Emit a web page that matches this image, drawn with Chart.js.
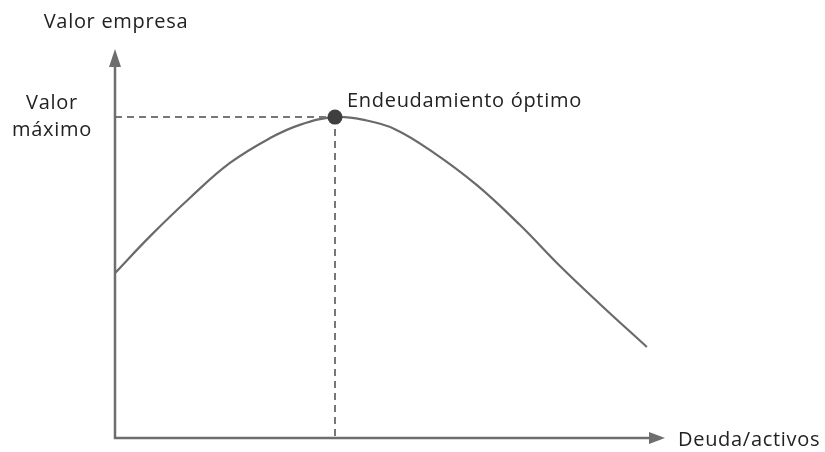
<!DOCTYPE html>
<html>
<head>
<meta charset="utf-8">
<script src="https://cdn.jsdelivr.net/npm/chart.js@4/dist/chart.umd.min.js"></script>
<style>
  html,body{margin:0;padding:0;background:#fff;}
  #wrap{width:825px;height:452px;position:relative;}
</style>
</head>
<body>
<div id="wrap"><canvas id="c" width="825" height="452"></canvas></div>
<script>
// Curve: firm value vs debt/assets (arbitrary units)
const debtRatio  = [0, 6.4, 13.6, 20.9, 28.2, 33.6, 40, 45.5, 50.9, 57.8, 65.8, 73.6, 80.9, 88.2, 96.7];
const firmValue  = [42.4, 51.9, 61.7, 70.7, 77.1, 80.5, 82.5, 81.7, 79.4, 73.5, 65.0, 54.8, 44.2, 34.4, 23.4];
const optimumX = [40];
const optimumY = [82.5];
const labels = {
  yTitle: "Valor empresa",
  xTitle: "Deuda/activos",
  maxValue: ["Valor", "máximo"],
  optimum: "Endeudamiento óptimo"
};

const FONT = '20px "Open Sans", Lato, sans-serif';
const TEXT = '#222';
const AXIS = '#6e6e6e';

const decor = {
  id: 'decor',
  afterDatasetsDraw(chart) {
    const {ctx, scales:{x, y}} = chart;
    const x0 = x.getPixelForValue(0), y0 = y.getPixelForValue(0);
    const xEnd = x.getPixelForValue(100), yEnd = y.getPixelForValue(100);
    ctx.save();
    ctx.strokeStyle = AXIS; ctx.fillStyle = AXIS; ctx.lineWidth = 2.5;
    // y axis
    ctx.beginPath(); ctx.moveTo(x0, y0 + 1); ctx.lineTo(x0, yEnd + 16); ctx.stroke();
    ctx.beginPath(); ctx.moveTo(x0, yEnd); ctx.lineTo(x0 - 6, yEnd + 18); ctx.lineTo(x0 + 6, yEnd + 18); ctx.closePath(); ctx.fill();
    // x axis
    ctx.beginPath(); ctx.moveTo(x0 - 1, y0); ctx.lineTo(xEnd - 14, y0); ctx.stroke();
    ctx.beginPath(); ctx.moveTo(xEnd, y0); ctx.lineTo(xEnd - 16, y0 - 6); ctx.lineTo(xEnd - 16, y0 + 6); ctx.closePath(); ctx.fill();
    // labels
    ctx.fillStyle = TEXT; ctx.font = FONT; ctx.textBaseline = 'middle';
    if ('letterSpacing' in ctx) ctx.letterSpacing = '0.7px';
    ctx.textAlign = 'center';
    ctx.fillText(labels.yTitle, x0 + 1, yEnd - 27);
    const py = y.getPixelForValue(optimumY[0]);
    ctx.fillText(labels.maxValue[0], 52, py - 14);
    ctx.fillText(labels.maxValue[1], 52, py + 13);
    ctx.textAlign = 'left';
    const px = x.getPixelForValue(optimumX[0]);
    ctx.fillText(labels.optimum, px + 12, py - 16);
    ctx.fillText(labels.xTitle, xEnd + 13, y0 + 2);
    ctx.restore();
  }
};

new Chart(document.getElementById('c'), {
  type: 'scatter',
  data: {
    datasets: [
      {
        data: debtRatio.map((v, i) => ({x: v, y: firmValue[i]})),
        showLine: true, borderColor: '#6a6a6a', borderWidth: 2.2,
        pointRadius: 0, tension: 0.4, fill: false, order: 3
      },
      {
        data: [{x: 0, y: optimumY[0]}, {x: optimumX[0], y: optimumY[0]}],
        showLine: true, borderColor: '#777', borderWidth: 2, borderDash: [7, 5],
        pointRadius: 0, order: 2
      },
      {
        data: [{x: optimumX[0], y: optimumY[0]}, {x: optimumX[0], y: 0}],
        showLine: true, borderColor: '#777', borderWidth: 2, borderDash: [7, 5],
        pointRadius: 0, order: 2
      },
      {
        data: optimumX.map((v, i) => ({x: v, y: optimumY[i]})),
        pointRadius: 7.5, pointBackgroundColor: '#3f3f3f', pointBorderWidth: 0, order: 1
      }
    ]
  },
  options: {
    responsive: false, animation: false,
    layout: {padding: {left: 115, right: 160, top: 49, bottom: 14}},
    plugins: {legend: {display: false}, tooltip: {enabled: false}},
    scales: {
      x: {type: 'linear', min: 0, max: 100, display: false},
      y: {type: 'linear', min: 0, max: 100, display: false}
    }
  },
  plugins: [decor]
});
</script>
</body>
</html>
